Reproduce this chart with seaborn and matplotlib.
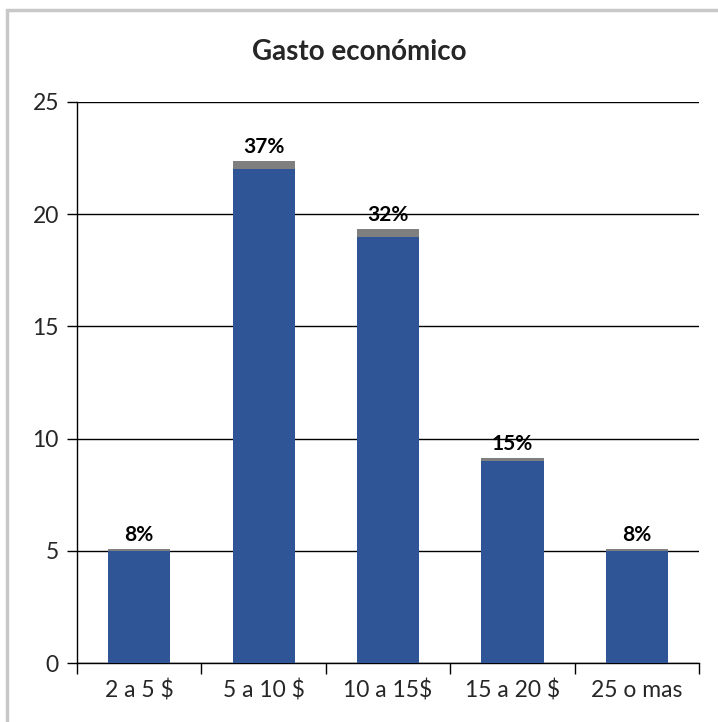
import matplotlib
matplotlib.use("Agg")
import matplotlib.pyplot as plt
from matplotlib.patches import Rectangle
from matplotlib.ticker import FixedLocator
import numpy as np
import pandas as pd
import seaborn as sns

# Spending ranges, respondent counts and share of total
categories = ["2 a 5 $", "5 a 10 $", "10 a 15$", "15 a 20 $", "25 o mas"]
counts = [5, 22, 19, 9, 5]
shares = [0.08, 0.37, 0.32, 0.15, 0.08]
share_labels = ["8%", "37%", "32%", "15%", "8%"]

sns.set_theme(style="white")
plt.rcParams["font.family"] = ["Lato", "DejaVu Sans"]

df = pd.DataFrame({"rango": categories, "casos": counts, "porcentaje": shares})
df["total"] = df["casos"] + df["porcentaje"]

fig = plt.figure(figsize=(7.18, 7.22), dpi=100)
ax = fig.add_axes([77 / 718, 1 - 663 / 722, 622 / 718, 561 / 722])

# Stacked bars: share on top of the count
sns.barplot(data=df, x="rango", y="total", color="#7F7F7F", width=0.5,
            saturation=1, linewidth=0, ax=ax, zorder=2)
sns.barplot(data=df, x="rango", y="casos", color="#2F5597", width=0.5,
            saturation=1, linewidth=0, ax=ax, zorder=3)

for i, (tot, lab) in enumerate(zip(df["total"], share_labels)):
    ax.annotate(lab, (i, tot), xytext=(0, 3), textcoords="offset points",
                ha="center", va="bottom", fontsize=15, fontweight="bold",
                color="black", zorder=5)

ax.set_xlim(-0.5, len(categories) - 0.5)
ax.set_ylim(0, 25)
ax.set_yticks([0, 5, 10, 15, 20, 25])
ax.yaxis.grid(True, color="black", linewidth=1.0, zorder=0)
ax.set_axisbelow(True)

for side in ["top", "right"]:
    ax.spines[side].set_visible(False)
ax.spines["left"].set_color("black")
ax.spines["bottom"].set_color("black")
ax.spines["left"].set_linewidth(1.0)
ax.spines["bottom"].set_linewidth(1.0)

ax.set_xlabel("")
ax.set_ylabel("")
ax.tick_params(axis="y", which="major", length=7, width=1, color="black",
               labelsize=16.5, pad=6, left=True)
ax.tick_params(axis="x", which="major", length=0, labelsize=16.5, pad=12)
ax.xaxis.set_minor_locator(FixedLocator(np.arange(-0.5, len(categories), 1.0)))
ax.tick_params(axis="x", which="minor", length=8, width=1, color="black",
               bottom=True)

fig.text(0.5, 1 - 52 / 722, "Gasto económico", ha="center", va="center",
         fontsize=20, fontweight="bold")

# Chart area outline
fig.add_artist(Rectangle((7 / 718, -0.05), 1.2, 1 - 10 / 722 + 0.05,
                         transform=fig.transFigure, fill=False,
                         edgecolor="#C8C8C8", linewidth=2.5))

fig.savefig("out.png", dpi=100)
